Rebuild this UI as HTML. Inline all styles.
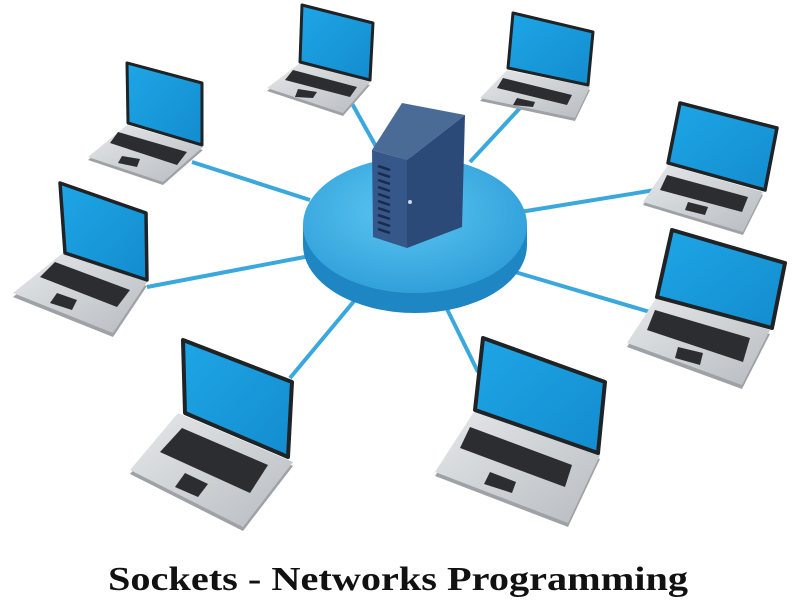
<!DOCTYPE html>
<html><head><style>body{margin:0;background:#fff}svg{display:block}</style></head><body>
<svg width="800" height="600" viewBox="0 0 800 600" xmlns="http://www.w3.org/2000/svg">
<defs>
<linearGradient id="scr" x1="0" y1="0" x2="1" y2="1"><stop offset="0" stop-color="#1ea6e6"/><stop offset="1" stop-color="#138ccf"/></linearGradient>
<linearGradient id="base" x1="0" y1="0" x2="1" y2="1"><stop offset="0" stop-color="#e6e8ea"/><stop offset="1" stop-color="#b8bcc0"/></linearGradient>
<radialGradient id="disk" cx="0.45" cy="0.4" r="0.7"><stop offset="0" stop-color="#5cc6f2"/><stop offset="1" stop-color="#2a9ad6"/></radialGradient>
</defs>
<g stroke="#3aa8dc" stroke-width="4" fill="none">
<line x1="192" y1="162" x2="310" y2="200"/>
<line x1="350" y1="100" x2="378" y2="150"/>
<line x1="520" y1="108" x2="470" y2="162"/>
<line x1="655" y1="190" x2="520" y2="212"/>
<line x1="650" y1="312" x2="515" y2="272"/>
<line x1="478" y1="372" x2="445" y2="305"/>
<line x1="290" y1="378" x2="355" y2="300"/>
<line x1="147" y1="287" x2="310" y2="256"/>
</g>
<ellipse cx="415" cy="245" rx="112" ry="68" fill="#1e86c2"/>
<rect x="303" y="225" width="224" height="20" fill="#1e86c2"/>
<ellipse cx="415" cy="225" rx="112" ry="68" fill="url(#disk)"/>
<polygon points="372,150 402,103 465,115 407,160" fill="#4b6b97"/>
<polygon points="407,160 465,115 462,227 407,248" fill="#2c4a78"/>
<polygon points="372,150 407,160 407,248 373,237" fill="#35578a"/>
<g stroke="#1a2c4a" stroke-width="2.5">
<line x1="378" y1="166" x2="390" y2="170"/><line x1="378" y1="173" x2="390" y2="177"/><line x1="378" y1="180" x2="390" y2="184"/><line x1="378" y1="187" x2="390" y2="191"/><line x1="378" y1="194" x2="390" y2="198"/><line x1="378" y1="201" x2="390" y2="205"/><line x1="378" y1="208" x2="390" y2="212"/><line x1="378" y1="215" x2="390" y2="219"/><line x1="378" y1="222" x2="390" y2="226"/><line x1="378" y1="229" x2="390" y2="233"/>
</g>
<circle cx="410" cy="202" r="2" fill="#cfd8e4"/>

<g stroke-linejoin="round">
<!-- A -->
<g>
<polygon points="127,125 203,147 163,182 88,157" transform="translate(0,3)" fill="#9ea2a6"/>
<polygon points="127,125 203,147 163,182 88,157" fill="url(#base)"/>
<polygon points="118,132 187,152 177,165 110,143" fill="#2b2d30"/>
<polygon points="122,156 140,159 137,167 118,163" fill="#2b2d30"/>
<polygon points="127,63 202,83 202,145 128,123" fill="url(#scr)" stroke="#1f2326" stroke-width="3"/>
</g>
<!-- B -->
<g>
<polygon points="300,63 370,82 343,113 267,88" transform="translate(0,3)" fill="#9ea2a6"/>
<polygon points="300,63 370,82 343,113 267,88" fill="url(#base)"/>
<polygon points="293,70 357,87 350,97 285,80" fill="#2b2d30"/>
<polygon points="298,89 317,92 313,98 295,97" fill="#2b2d30"/>
<polygon points="302,5 373,23 370,80 300,62" fill="url(#scr)" stroke="#1f2326" stroke-width="3"/>
</g>
<!-- C -->
<g>
<polygon points="507,70 590,87 575,118 480,98" transform="translate(0,3)" fill="#9ea2a6"/>
<polygon points="507,70 590,87 575,118 480,98" fill="url(#base)"/>
<polygon points="503,78 572,95 567,105 497,88" fill="#2b2d30"/>
<polygon points="517,98 535,102 533,107 513,105" fill="#2b2d30"/>
<polygon points="513,13 593,32 588,85 508,68" fill="url(#scr)" stroke="#1f2326" stroke-width="3"/>
</g>
<!-- D -->
<g>
<polygon points="668,165 763,192 743,232 643,202" transform="translate(0,3)" fill="#9ea2a6"/>
<polygon points="668,165 763,192 743,232 643,202" fill="url(#base)"/>
<polygon points="667,175 748,197 742,212 660,190" fill="#2b2d30"/>
<polygon points="688,202 708,207 705,215 685,210" fill="#2b2d30"/>
<polygon points="680,103 777,128 765,190 668,163" fill="url(#scr)" stroke="#1f2326" stroke-width="3.5"/>
</g>
<!-- E -->
<g>
<polygon points="657,297 770,330 742,385 627,343" transform="translate(0,4)" fill="#9ea2a6"/>
<polygon points="657,297 770,330 742,385 627,343" fill="url(#base)"/>
<polygon points="655,310 750,338 743,362 647,330" fill="#2b2d30"/>
<polygon points="678,347 703,353 700,365 675,358" fill="#2b2d30"/>
<polygon points="672,230 785,263 772,328 657,297" fill="url(#scr)" stroke="#1f2326" stroke-width="4"/>
</g>
<!-- F -->
<g>
<polygon points="475,410 600,455 568,523 435,472" transform="translate(0,4)" fill="#9ea2a6"/>
<polygon points="475,410 600,455 568,523 435,472" fill="url(#base)"/>
<polygon points="470,427 572,465 565,487 460,448" fill="#2b2d30"/>
<polygon points="490,472 516,482 512,493 484,484" fill="#2b2d30"/>
<polygon points="483,338 605,382 598,453 475,410" fill="url(#scr)" stroke="#1f2326" stroke-width="4"/>
</g>
<!-- G -->
<g>
<polygon points="178,413 293,462 243,527 130,470" transform="translate(0,4)" fill="#9ea2a6"/>
<polygon points="178,413 293,462 243,527 130,470" fill="url(#base)"/>
<polygon points="182,428 268,465 250,493 160,452" fill="#2b2d30"/>
<polygon points="185,473 208,484 198,497 175,487" fill="#2b2d30"/>
<polygon points="183,340 292,382 288,457 185,413" fill="url(#scr)" stroke="#1f2326" stroke-width="4"/>
</g>
<!-- H -->
<g>
<polygon points="63,253 147,282 113,333 13,293" transform="translate(0,4)" fill="#9ea2a6"/>
<polygon points="63,253 147,282 113,333 13,293" fill="url(#base)"/>
<polygon points="55,262 130,290 117,307 40,277" fill="#2b2d30"/>
<polygon points="57,293 77,300 72,310 50,303" fill="#2b2d30"/>
<polygon points="60,183 146,213 147,280 65,253" fill="url(#scr)" stroke="#1f2326" stroke-width="3.5"/>
</g>
</g>
<text x="398" y="590" text-anchor="middle" font-family="Liberation Serif, serif" font-weight="bold" font-size="34" textLength="580" lengthAdjust="spacingAndGlyphs" fill="#111">Sockets - Networks Programming</text>
</svg>
</body></html>
